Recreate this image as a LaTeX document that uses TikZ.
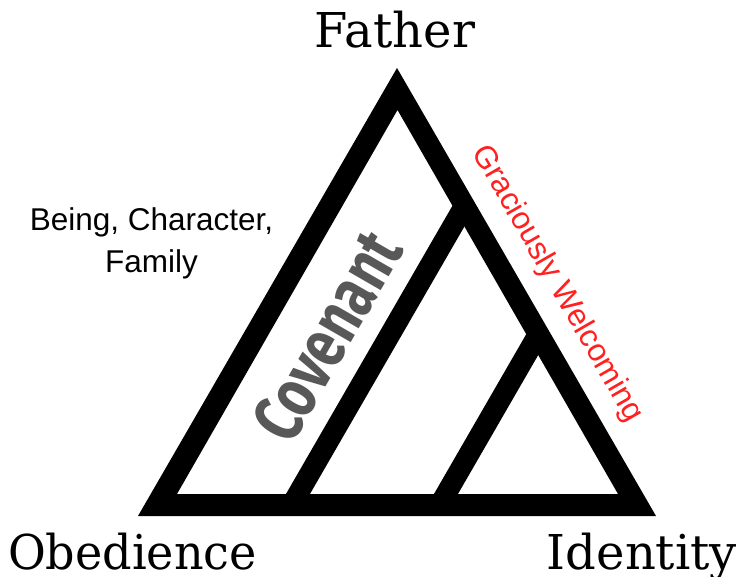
\documentclass[tikz,border=0pt]{standalone}
\usepackage{fontspec}
\usepackage{graphicx}
\newfontfamily\serifA{DejaVu Serif}
\newfontfamily\sansA{Liberation Sans}
\newfontfamily\covfont[FakeStretch=0.76]{Fira Sans}
\definecolor{covgray}{RGB}{88,88,88}
\definecolor{welred}{RGB}{255,32,32}
\tikzset{
  corner/.style={inner sep=0pt, anchor=base, text depth=0pt, font=\serifA\fontsize{48}{56}\selectfont},
  sidetext/.style={inner sep=0pt, anchor=base, font=\sansA\fontsize{31.5}{36}\selectfont},
  frame/.style={fill=black}
}
\begin{document}
\begin{tikzpicture}[x=1pt,y=-1pt]
\useasboundingbox[fill=white] (0,0) rectangle (739,577);
% triangle frame
\fill[frame, even odd rule] (397,68) -- (138,516) -- (656,516) -- cycle
  (397.5,110) -- (177,494) -- (618,494) -- cycle;
% bars
\fill[frame] (279.6,505) -- (458.3,195.6) -- (470.3,216.3) -- (303.6,505) -- cycle;
\fill[frame] (427.6,505) -- (532.3,323.7) -- (544.3,344.5) -- (451.6,505) -- cycle;
% labels
\node[corner] (father) at (395,48) {Father};
\node[corner] (obed) at (132.5,569) {\scalebox{0.96}[1]{Obedience}};
\node[corner] (ident) at (642,569) {Identity};
\node[sidetext] (being) at (151.5,231) {Being, Character,};
\node[sidetext] (family) at (151.5,273) {Family};
\node[inner sep=0pt, rotate=60, text=covgray, font=\covfont\bfseries\fontsize{70}{70}\selectfont] (cov) at (327,336) {Covenant};
\node[inner sep=0pt, rotate=-60, text=welred, font=\sansA\fontsize{31.5}{36}\selectfont] (grace) at (557,284) {Graciously Welcoming};
\end{tikzpicture}
\end{document}
